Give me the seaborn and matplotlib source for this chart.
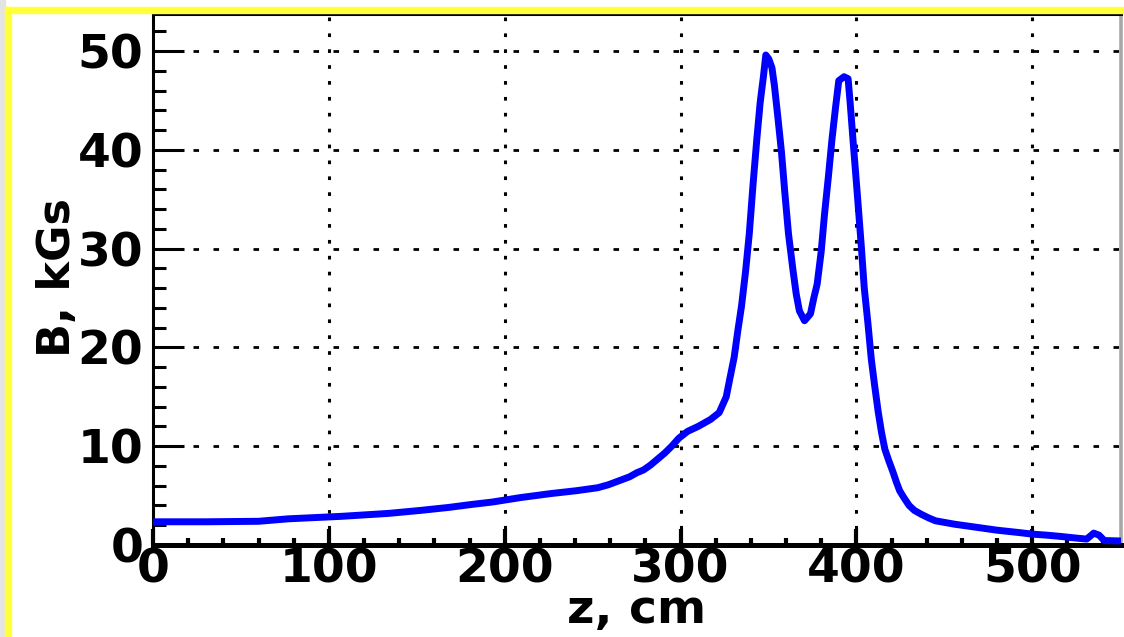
import numpy as np
import pandas as pd
import matplotlib
matplotlib.use("Agg")
import matplotlib.pyplot as plt
from matplotlib.patches import Rectangle
from matplotlib.ticker import MultipleLocator
import seaborn as sns

# field profile (z in cm, B in kGs)
z_cm = [0, 30, 60, 77, 107, 134, 152, 168, 181, 193, 209, 226, 241, 253, 259,
        265, 271, 275, 279, 283, 287, 291, 295, 299, 304, 310, 317, 322, 326,
        328, 330.5, 332.6, 334.7, 337.0, 339.1, 341.2, 343.4, 345.3, 347.2,
        348.5, 350.2, 352.0, 353.4, 355.3, 357.4, 359.3, 361.4, 363.9, 365.8,
        367.6, 370.5, 373.9, 375.8, 377.7, 380.0, 381.9, 384.1, 386.1, 388.1,
        390.0, 393.0, 395.3, 396.5, 398.4, 400.5, 402.7, 404.5, 406.6, 408.5,
        410.5, 412.4, 414.3, 416.2, 418.5, 420.8, 422.7, 424.6, 427, 430, 433,
        437, 441, 445, 456, 468, 480, 493, 500, 508, 516, 525, 531, 535, 538,
        541, 552]
b_kgs = [2.35, 2.35, 2.4, 2.65, 2.9, 3.2, 3.5, 3.8, 4.1, 4.35, 4.8, 5.2, 5.5,
         5.8, 6.1, 6.5, 6.9, 7.3, 7.6, 8.1, 8.7, 9.3, 10.0, 10.8, 11.5, 12.0,
         12.7, 13.4, 15.0, 16.8, 19.0, 21.7, 24.2, 27.7, 31.5, 36.4, 41.1,
         44.8, 47.5, 49.6, 49.2, 48.3, 46.5, 43.4, 39.8, 35.7, 31.5, 27.9,
         25.4, 23.7, 22.7, 23.4, 25.0, 26.4, 29.7, 33.5, 37.3, 41.0, 44.2,
         47.0, 47.4, 47.2, 44.7, 40.3, 35.6, 30.5, 26.0, 22.4, 18.8, 16.0,
         13.5, 11.4, 9.7, 8.5, 7.4, 6.4, 5.5, 4.8, 4.0, 3.5, 3.1, 2.75, 2.45,
         2.1, 1.8, 1.5, 1.25, 1.1, 1.0, 0.87, 0.7, 0.6, 1.2, 1.0, 0.45, 0.4]

x_ticks = [0, 100, 200, 300, 400, 500]
y_ticks = [0, 10, 20, 30, 40, 50]

df = pd.DataFrame({"z": z_cm, "B": b_kgs})

sns.set_theme(style="white")
plt.rcParams["font.family"] = ["DejaVu Sans"]
plt.rcParams["font.weight"] = "bold"
for key in ["text.color", "axes.labelcolor", "xtick.color", "ytick.color"]:
    plt.rcParams[key] = "black"

fig = plt.figure(figsize=(11.24, 6.37), dpi=100)
W, H = 1124, 637

# frame decoration around the canvas
fig.patches.append(Rectangle((0, 0), 5 / W, 1, transform=fig.transFigure,
                             color="#e4e4e4", zorder=0))
fig.patches.append(Rectangle((5 / W, 1 - 13 / H), 1, 6 / H, transform=fig.transFigure,
                             color="#ffff3a", zorder=1))
fig.patches.append(Rectangle((5 / W, 0), 6 / W, 1 - 7 / H, transform=fig.transFigure,
                             color="#ffff3a", zorder=1))

ax = fig.add_axes([153 / W, 92 / H, (1121 - 153) / W, (545 - 14) / H])

# dotted grid, different dot pitch for each direction
for y in y_ticks[1:]:
    ax.axhline(y, color="black", lw=2.0, ls=(0, (2.0, 5.2)), zorder=1)
for x in x_ticks[1:]:
    ax.axvline(x, color="black", lw=2.2, ls=(0, (1.2, 4.0)), zorder=1)

sns.lineplot(data=df, x="z", y="B", ax=ax, color="#0000ff", lw=5,
             estimator=None, sort=False, zorder=3)

ax.set_xlim(0, 550.5)
ax.set_ylim(0, 53.75)
ax.set_xticks(x_ticks)
ax.set_yticks(y_ticks)
ax.xaxis.set_minor_locator(MultipleLocator(20))
ax.yaxis.set_minor_locator(MultipleLocator(2))

ax.tick_params(axis="y", which="major", direction="in", length=22, width=2.2,
               pad=7, labelsize=34, left=True, right=False, colors="black")
ax.tick_params(axis="y", which="minor", direction="in", length=9, width=2.2,
               left=True, right=False, colors="black")
ax.tick_params(axis="x", which="major", direction="in", length=11.5, width=3,
               pad=2, labelsize=34, bottom=True, top=False, colors="black")
ax.tick_params(axis="x", which="minor", direction="in", length=5, width=3,
               bottom=True, top=False, colors="black")
for lab in ax.get_xticklabels() + ax.get_yticklabels():
    lab.set_fontweight("bold")

for side in ["left", "bottom", "top"]:
    ax.spines[side].set_color("black")
ax.spines["left"].set_linewidth(2.2)
ax.spines["bottom"].set_linewidth(3.6)
ax.spines["top"].set_linewidth(2.2)
ax.spines["right"].set_color("#a8a8a8")
ax.spines["right"].set_linewidth(2.6)

ax.set_xlabel("z, cm", fontsize=34, fontweight="bold", va="baseline", color="black")
ax.set_ylabel("B, kGs", fontsize=32, fontweight="bold", va="baseline", color="black")
ax.xaxis.set_label_coords(0.5, (545 - 623) / 531)
ax.yaxis.set_label_coords((70 - 153) / 968, 0.503)

fig.savefig("out.png", dpi=100)
